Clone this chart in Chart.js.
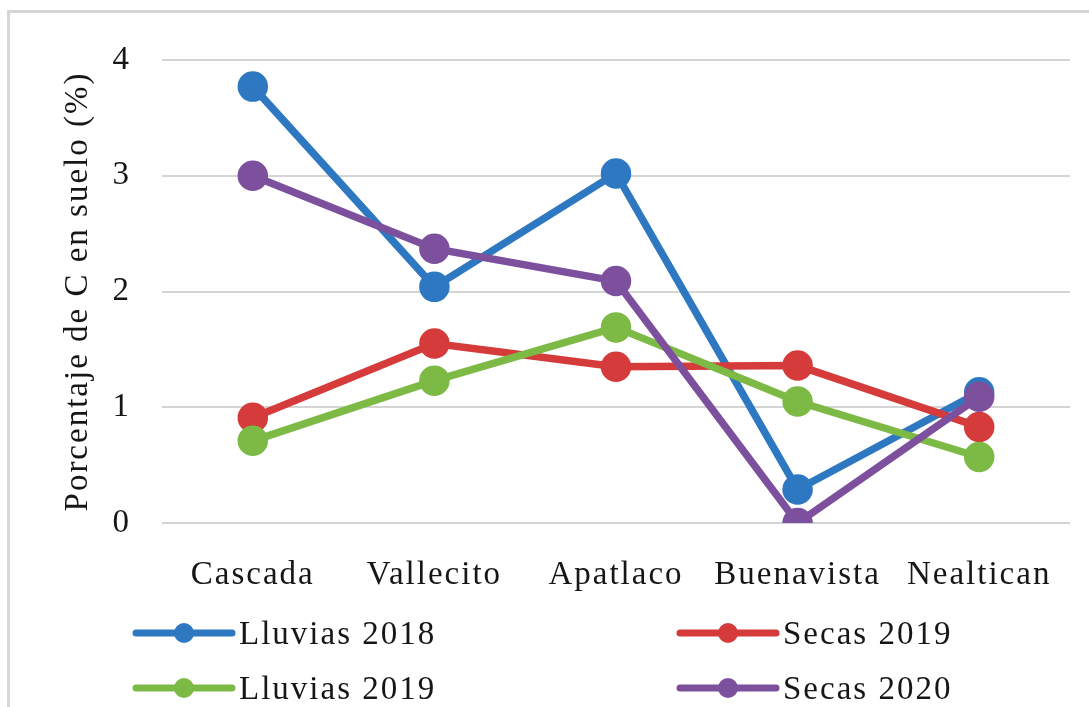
<!DOCTYPE html>
<html>
<head>
<meta charset="utf-8">
<script src="https://cdn.jsdelivr.net/npm/chart.js@4/dist/chart.umd.min.js"></script>
<style>
  body { margin: 0; background: #fff; }
  #frame { position: absolute; left: 7px; top: 10px; width: 1100px; height: 720px;
           border-top: 3px solid #d6d6d6; border-left: 3px solid #d6d6d6; }
  #chart { position: absolute; left: 0; top: 0; }
</style>
</head>
<body>
<div id="frame"></div>
<canvas id="chart" width="1089" height="707"></canvas>
<script>
// sites sampled
const sitios = ["Cascada", "Vallecito", "Apatlaco", "Buenavista", "Nealtican"];

// soil carbon (%) per season
const lluvias2018 = [3.77, 2.04, 3.02, 0.29, 1.13];
const secas2019   = [0.91, 1.55, 1.35, 1.36, 0.83];
const lluvias2019 = [0.71, 1.23, 1.69, 1.05, 0.57];
const secas2020   = [3.00, 2.37, 2.09, 0.00, 1.09];

const yTicks = [0, 1, 2, 3, 4];

const serif = "'Liberation Serif', 'Times New Roman', serif";
const textColor = "#161616";
const fontSize = 33;
const letterGap = "2px";

function serie(label, values, color, order) {
    return {
        label: label,
        data: values,
        borderColor: color,
        backgroundColor: color,
        pointBackgroundColor: color,
        pointBorderColor: color,
        borderWidth: 7.5,
        pointRadius: 11.5,
        pointHoverRadius: 11.5,
        tension: 0,
        order: order,
    };
}

const datasets = [
    serie("Lluvias 2018", lluvias2018, "#2e78c2", 3),
    serie("Secas 2019", secas2019, "#d63b3b", 2),
    serie("Lluvias 2019", lluvias2019, "#7cba45", 1),
    serie("Secas 2020", secas2020, "#7d509e", 0),
];

// the typeset text has a bit of extra spacing between letters
const spacing = {
    id: "spacing",
    beforeLayout(chart) { chart.ctx.letterSpacing = letterGap; },
    beforeDraw(chart) { chart.ctx.letterSpacing = letterGap; },
};

// two-column legend below the axis: line with a dot, then the name
const legendBelow = {
    id: "legendBelow",
    afterDraw(chart) {
        const ctx = chart.ctx;
        const area = chart.chartArea;
        const cols = [area.left - 26, area.left + 518];
        const rows = [area.bottom + 110, area.bottom + 165];
        ctx.save();
        ctx.letterSpacing = letterGap;
        ctx.font = fontSize + "px " + serif;
        ctx.textBaseline = "middle";
        chart.data.datasets.forEach((ds, i) => {
            const x = cols[i % 2];
            const y = rows[Math.floor(i / 2)];
            ctx.strokeStyle = ds.borderColor;
            ctx.lineWidth = 7;
            ctx.lineCap = "round";
            ctx.beginPath();
            ctx.moveTo(x, y);
            ctx.lineTo(x + 96, y);
            ctx.stroke();
            ctx.fillStyle = ds.borderColor;
            ctx.beginPath();
            ctx.arc(x + 48, y, 10, 0, Math.PI * 2);
            ctx.fill();
            ctx.fillStyle = textColor;
            ctx.fillText(ds.label, x + 103, y + 2);
        });
        ctx.restore();
    },
};

new Chart(document.getElementById("chart"), {
    type: "line",
    data: { labels: sitios, datasets: datasets },
    plugins: [spacing, legendBelow],
    options: {
        responsive: false,
        animation: false,
        events: [],
        layout: { padding: { left: 59, right: 17, top: 60, bottom: 0 } },
        plugins: {
            legend: { display: false },
            tooltip: { enabled: false },
        },
        scales: {
            x: {
                offset: true,
                grid: { display: false },
                border: { display: false },
                ticks: {
                    color: textColor,
                    font: { family: serif, size: fontSize },
                    padding: 25,
                    maxRotation: 0,
                },
                afterFit(scale) { scale.height = 184; },
            },
            y: {
                min: 0,
                max: 4,
                afterBuildTicks(scale) { scale.ticks = yTicks.map(v => ({ value: v })); },
                grid: { color: "#d4d4d4", lineWidth: 2, drawTicks: false },
                border: { display: false },
                ticks: {
                    color: textColor,
                    font: { family: serif, size: fontSize },
                    padding: 31,
                },
                title: {
                    display: true,
                    text: "Porcentaje de C en suelo (%)",
                    color: textColor,
                    font: { family: serif, size: fontSize },
                    padding: 0,
                },
                afterFit(scale) { scale.width = 103; },
            },
        },
    },
});
</script>
</body>
</html>
